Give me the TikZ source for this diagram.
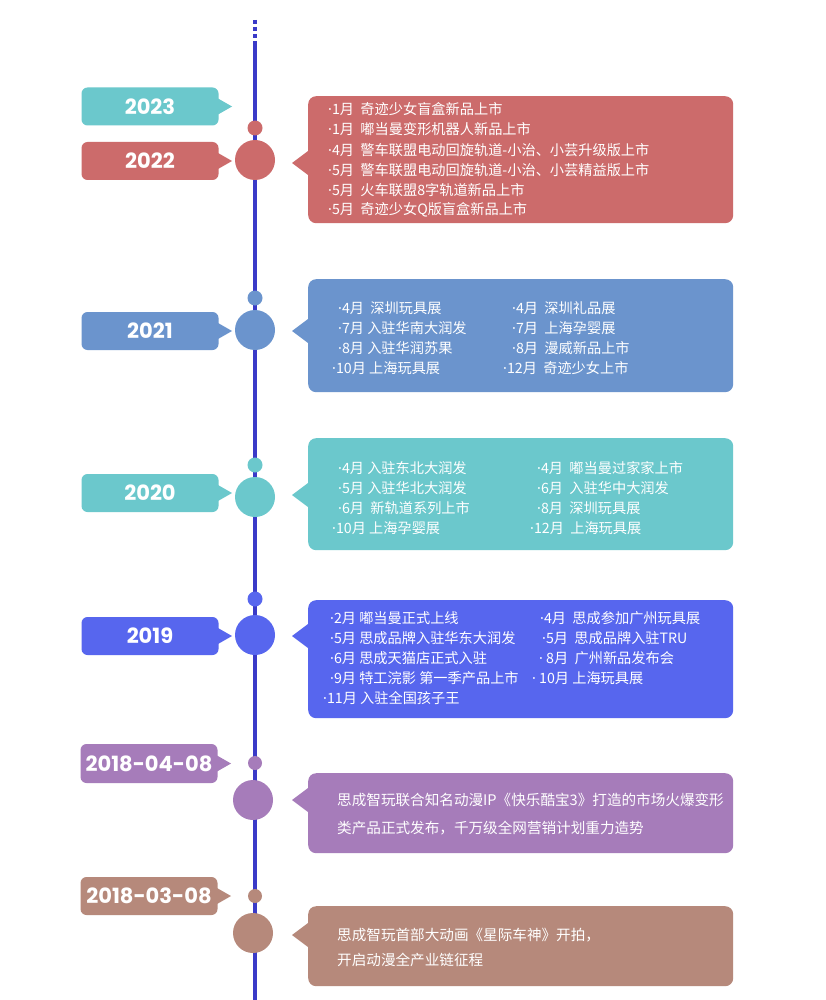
\documentclass[tikz,border=0pt]{standalone}
\usepackage{fontspec}
\setmainfont{Noto Sans CJK SC}
\newfontfamily\yearfont{Poppins}
\newfontfamily\latinfont{Noto Sans}
\newcommand\dotmark{{\latinfont ·}}
\definecolor{cteal}{HTML}{6BC8CC}
\definecolor{cred}{HTML}{CC6B6B}
\definecolor{cblue}{HTML}{6B94CD}
\definecolor{cindigo}{HTML}{5766EE}
\definecolor{cpurple}{HTML}{A67CBA}
\definecolor{cbrown}{HTML}{B6897B}
\definecolor{cline}{HTML}{3A3AC8}
\tikzset{
  yearbox/.style={rounded corners=6pt, minimum width=137pt, minimum height=38pt, inner sep=0pt, text=white, font=\yearfont\bfseries\fontsize{21}{21}\selectfont},
  infobox/.style={rounded corners=8pt, minimum width=425pt, anchor=north west, inner sep=0pt},
  item/.style={anchor=west, text=white, font=\fontsize{14.2}{14.2}\selectfont, inner sep=0pt},
  para/.style={anchor=west, text=white, font=\fontsize{14.6}{14.6}\selectfont, inner sep=0pt},
  dotsmall/.style={circle, minimum size=15pt, inner sep=0pt},
  dotbig/.style={circle, minimum size=40pt, inner sep=0pt},
  tline/.style={cline, line width=4pt},
}
\begin{document}
\begin{tikzpicture}[x=1pt,y=-1pt]
\useasboundingbox[fill=white] (0,0) rectangle (825,1000);
% timeline
\coordinate (dtop) at (255,20);
\coordinate (ltop) at (255,42);
\coordinate (lbot) at (255,1000);
\draw[tline, dash pattern=on 4pt off 3pt] (dtop) -- (ltop);
\draw[tline] (ltop) -- (lbot);

% ---------- 2023 ----------
\node[yearbox, fill=cteal] (y23) at (150,106.5) {2023};
\fill[cteal] (218,98.5) -- (232,106.5) -- (218,114.5) -- cycle;

% ---------- 2022 ----------
\node[yearbox, fill=cred] (y22) at (150,161) {2022};
\fill[cred] (218,153) -- (232,161) -- (218,169) -- cycle;
\node[dotsmall, fill=cred] (s22) at (255,128) {};
\node[dotbig, fill=cred] (b22) at (255,160) {};
\node[infobox, fill=cred, minimum height=127pt] (i22) at (308,96) {};
\fill[cred] (308,151) -- (292,163) -- (308,175) -- cycle;
\node[item] (t22a) at (328,109) {\dotmark1月 \ 奇迹少女盲盒新品上市};
\node[item] (t22b) at (328,129.5) {\dotmark1月 \ 嘟当曼变形机器人新品上市};
\node[item] (t22c) at (328,150) {\dotmark4月 \ 警车联盟电动回旋轨道-小治、小芸升级版上市};
\node[item] (t22d) at (328,170) {\dotmark5月 \ 警车联盟电动回旋轨道-小治、小芸精益版上市};
\node[item] (t22e) at (328,190) {\dotmark5月 \ 火车联盟8字轨道新品上市};
\node[item] (t22f) at (328,210) {\dotmark5月 \ 奇迹少女Q版盲盒新品上市};

% ---------- 2021 ----------
\node[yearbox, fill=cblue] (y21) at (150,331) {2021};
\fill[cblue] (218,323) -- (232,331) -- (218,339) -- cycle;
\node[dotsmall, fill=cblue] (s21) at (255,298) {};
\node[dotbig, fill=cblue] (b21) at (255,330) {};
\node[infobox, fill=cblue, minimum height=113pt] (i21) at (308,279) {};
\fill[cblue] (308,319) -- (292,331) -- (308,343) -- cycle;
\node[item] (t21a) at (338,308) {\dotmark4月 \ 深圳玩具展};
\node[item] (t21b) at (338,328) {\dotmark7月 入驻华南大润发};
\node[item] (t21c) at (338,348) {\dotmark8月 入驻华润苏果};
\node[item] (t21d) at (332,368) {\dotmark10月 上海玩具展};
\node[item] (t21e) at (512,308) {\dotmark4月 \ 深圳礼品展};
\node[item] (t21f) at (512,328) {\dotmark7月 \ 上海孕婴展};
\node[item] (t21g) at (512,348) {\dotmark8月 \ 漫威新品上市};
\node[item] (t21h) at (503,368) {\dotmark12月 \ 奇迹少女上市};

% ---------- 2020 ----------
\node[yearbox, fill=cteal] (y20) at (150,493) {2020};
\fill[cteal] (218,485) -- (232,493) -- (218,501) -- cycle;
\node[dotsmall, fill=cteal] (s20) at (255,465) {};
\node[dotbig, fill=cteal] (b20) at (255,497) {};
\node[infobox, fill=cteal, minimum height=112pt] (i20) at (308,438) {};
\fill[cteal] (308,483) -- (292,495) -- (308,507) -- cycle;
\node[item] (t20a) at (338,468) {\dotmark4月 入驻东北大润发};
\node[item] (t20b) at (338,488) {\dotmark5月 入驻华北大润发};
\node[item] (t20c) at (338,508) {\dotmark6月 \ 新轨道系列上市};
\node[item] (t20d) at (332,528) {\dotmark10月 上海孕婴展};
\node[item] (t20e) at (537,468) {\dotmark4月 \ 嘟当曼过家家上市};
\node[item] (t20f) at (537,488) {\dotmark6月 \ 入驻华中大润发};
\node[item] (t20g) at (537,508) {\dotmark8月 \ 深圳玩具展};
\node[item] (t20h) at (530,528) {\dotmark12月 \ 上海玩具展};

% ---------- 2019 ----------
\node[yearbox, fill=cindigo] (y19) at (150,636) {2019};
\fill[cindigo] (218,628) -- (232,636) -- (218,644) -- cycle;
\node[dotsmall, fill=cindigo] (s19) at (255,599) {};
\node[dotbig, fill=cindigo] (b19) at (255,635) {};
\node[infobox, fill=cindigo, minimum height=118pt] (i19) at (308,600) {};
\fill[cindigo] (308,624) -- (292,636) -- (308,648) -- cycle;
\node[item] (t19a) at (330,618) {\dotmark2月 嘟当曼正式上线};
\node[item] (t19b) at (330,638) {\dotmark5月 思成品牌入驻华东大润发};
\node[item] (t19c) at (330,658) {\dotmark6月 思成天猫店正式入驻};
\node[item] (t19d) at (330,678) {\dotmark9月 特工浣影 第一季产品上市};
\node[item] (t19e) at (323,698) {\dotmark11月 入驻全国孩子王};
\node[item] (t19f) at (540,618) {\dotmark4月 \ 思成参加广州玩具展};
\node[item] (t19g) at (542,638) {\dotmark5月 \ 思成品牌入驻TRU};
\node[item] (t19h) at (539,658) {\dotmark\ 8月 \ 广州新品发布会};
\node[item] (t19i) at (532,678) {\dotmark\ 10月 上海玩具展};

% ---------- 2018-04-08 ----------
\node[yearbox, fill=cpurple, minimum width=137pt, minimum height=39pt] (y1804) at (149,763.5) {2018-04-08};
\fill[cpurple] (217,755.5) -- (231,763.5) -- (217,771.5) -- cycle;
\node[dotsmall, fill=cpurple, minimum size=14pt] (s1804) at (255,763) {};
\node[dotbig, fill=cpurple] (b1804) at (253,800) {};
\node[infobox, fill=cpurple, minimum height=80pt] (i1804) at (308,773) {};
\fill[cpurple] (308,788) -- (292,800) -- (308,812) -- cycle;
\node[para] (t1804a) at (337,800) {思成智玩联合知名动漫IP《快乐酷宝3》打造的市场火爆变形};
\node[para] (t1804b) at (337,828) {类产品正式发布，千万级全网营销计划重力造势};

% ---------- 2018-03-08 ----------
\node[yearbox, fill=cbrown, minimum width=137pt, minimum height=38pt] (y1803) at (149,896) {2018-03-08};
\fill[cbrown] (217,888) -- (231,896) -- (217,904) -- cycle;
\node[dotsmall, fill=cbrown, minimum size=14pt] (s1803) at (255,896) {};
\node[dotbig, fill=cbrown] (b1803) at (253,933) {};
\node[infobox, fill=cbrown, minimum height=80pt] (i1803) at (308,906) {};
\fill[cbrown] (308,923) -- (292,935) -- (308,947) -- cycle;
\node[para] (t1803a) at (337,935) {思成智玩首部大动画《星际车神》开拍，};
\node[para] (t1803b) at (337,960) {开启动漫全产业链征程};
\end{tikzpicture}
\end{document}
